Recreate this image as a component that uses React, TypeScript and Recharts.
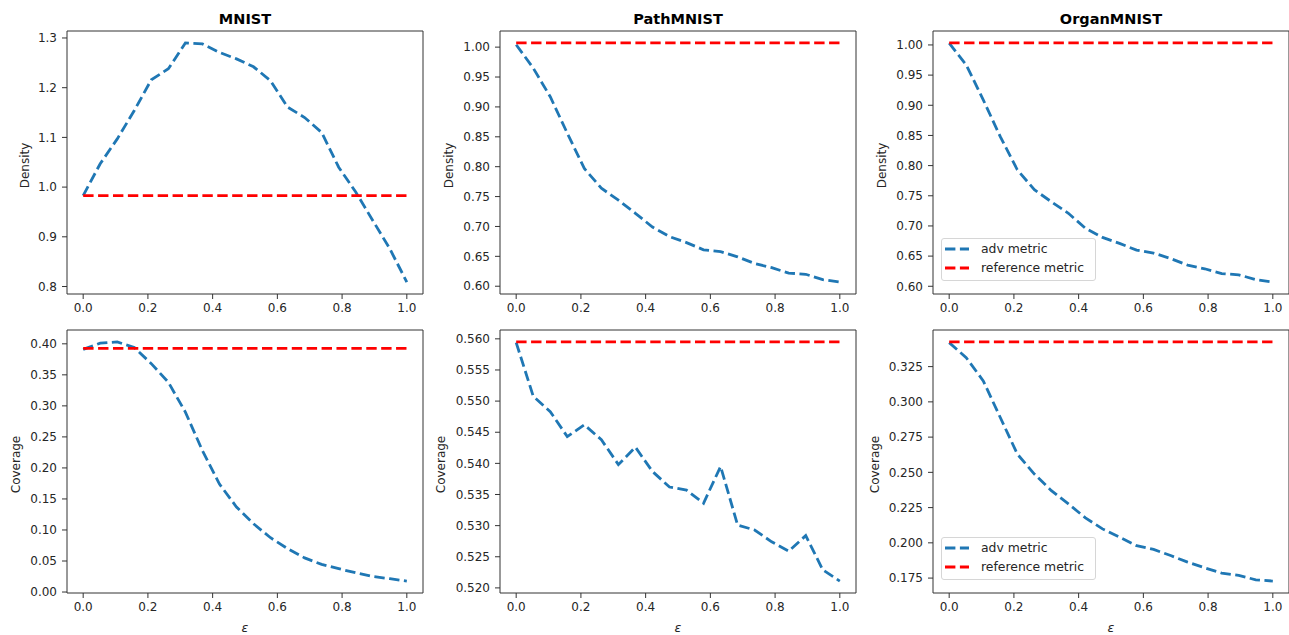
import React from 'react'
import { LineChart, Line, XAxis, YAxis, ReferenceArea, Legend } from 'recharts'

// epsilon sample points shared by every panel
const EPSILONS = [
  0, 0.0526, 0.1053, 0.1579, 0.2105, 0.2632, 0.3158, 0.3684, 0.4211, 0.4737,
  0.5263, 0.5789, 0.6316, 0.6842, 0.7368, 0.7895, 0.8421, 0.8947, 0.9474, 1,
]
const X_TICKS = [0, 0.2, 0.4, 0.6, 0.8, 1.0]

const MNIST_DENSITY = [
  0.983, 1.047, 1.097, 1.154, 1.216, 1.238, 1.29, 1.288, 1.271, 1.258,
  1.242, 1.214, 1.161, 1.14, 1.11, 1.04, 0.99, 0.933, 0.876, 0.809,
]
const MNIST_COVERAGE = [
  0.391, 0.401, 0.403, 0.394, 0.368, 0.338, 0.29, 0.228, 0.174, 0.137,
  0.11, 0.0875, 0.07, 0.055, 0.0445, 0.0376, 0.031, 0.025, 0.0215, 0.0177,
]
const PATH_DENSITY = [
  1.004, 0.965, 0.917, 0.856, 0.797, 0.764, 0.744, 0.722, 0.699, 0.683,
  0.673, 0.661, 0.658, 0.649, 0.638, 0.631, 0.622, 0.62, 0.611, 0.607,
]
const PATH_COVERAGE = [
  0.5594, 0.5508, 0.5483, 0.5443, 0.5462, 0.5438, 0.5398, 0.5426, 0.5387, 0.5362,
  0.5357, 0.5336, 0.5395, 0.5301, 0.5293, 0.5274, 0.5259, 0.5284, 0.5229, 0.5211,
]
const ORGAN_DENSITY = [
  1.003, 0.967, 0.909, 0.848, 0.793, 0.76, 0.74, 0.721, 0.696, 0.681,
  0.671, 0.66, 0.655, 0.646, 0.635, 0.629, 0.621, 0.619, 0.611, 0.607,
]
const ORGAN_COVERAGE = [
  0.342, 0.3314, 0.3149, 0.2889, 0.263, 0.2488, 0.237, 0.2276, 0.2177, 0.2099,
  0.204, 0.198, 0.1953, 0.191, 0.1863, 0.1823, 0.1785, 0.1769, 0.1738, 0.1729,
]

// reference metric, one per dataset/metric
const REF_MNIST_DENSITY = 0.983
const REF_MNIST_COVERAGE = 0.3925
const REF_PATH_DENSITY = 1.007
const REF_PATH_COVERAGE = 0.5595
const REF_ORGAN_DENSITY = 1.0033
const REF_ORGAN_COVERAGE = 0.3425

const DENSITY_TICKS_MNIST = [0.8, 0.9, 1.0, 1.1, 1.2, 1.3]
const COVERAGE_TICKS_MNIST = [0, 0.05, 0.1, 0.15, 0.2, 0.25, 0.3, 0.35, 0.4]
const DENSITY_TICKS_MED = [0.6, 0.65, 0.7, 0.75, 0.8, 0.85, 0.9, 0.95, 1.0]
const COVERAGE_TICKS_PATH = [0.52, 0.525, 0.53, 0.535, 0.54, 0.545, 0.55, 0.555, 0.56]
const COVERAGE_TICKS_ORGAN = [0.175, 0.2, 0.225, 0.25, 0.275, 0.3, 0.325]

const BLUE = '#1f77b4'
const RED = '#ff0000'
const DASH = '10.4 4.5'
const LINE_W = 2.8
const TEXT = '#262626'
const FONT = '"DejaVu Sans", sans-serif'

const PLOT_W = 356
const PLOT_H = 263
const M_LEFT = 70
const M_TOP = 30
const Y_AXIS_W = 60
const X_AXIS_H = 40

function PanelTitle({ text }: { text: string }) {
  return (
    <text x={M_LEFT + PLOT_W / 2} y={M_TOP - 7} textAnchor="middle" fontSize={14.5}
      fontWeight="bold" fill="#000" fontFamily={FONT}>
      {text}
    </text>
  )
}

function YTitle({ text, gap }: { text: string; gap: number }) {
  const x = M_LEFT - gap
  const y = M_TOP + PLOT_H / 2 + 3
  return (
    <text x={x} y={y} transform={`rotate(-90, ${x}, ${y})`} textAnchor="middle"
      dominantBaseline="central" fontSize={12} fill={TEXT} fontFamily={FONT}>
      {text}
    </text>
  )
}

function XTitle() {
  return (
    <text x={M_LEFT + PLOT_W / 2} y={M_TOP + PLOT_H + 34} textAnchor="middle"
      dominantBaseline="central" fontSize={12.5} fontStyle="italic" fill={TEXT} fontFamily={FONT}>
      ε
    </text>
  )
}

function LegendBox() {
  const rows = [
    { name: 'adv metric', color: BLUE },
    { name: 'reference metric', color: RED },
  ]
  return (
    <div style={{
      width: 150, border: '1px solid #d6d6d6', borderRadius: 3,
      background: 'rgba(255,255,255,0.8)', padding: '0 0 3px 3px', fontFamily: FONT,
      fontSize: 12.4, color: TEXT, boxSizing: 'content-box',
    }}>
      {rows.map((r) => (
        <div key={r.name} style={{ display: 'flex', alignItems: 'center', height: 19 }}>
          <svg width={24} height={6} style={{ flexShrink: 0 }}>
            <line x1={0} y1={3} x2={24} y2={3} stroke={r.color} strokeWidth={LINE_W} strokeDasharray={DASH} />
          </svg>
          <span style={{ marginLeft: 12, whiteSpace: 'nowrap' }}>{r.name}</span>
        </div>
      ))}
    </div>
  )
}

type PanelProps = {
  left: number
  top: number
  title?: string
  yLabel: string
  yGap: number
  values: number[]
  refValue: number
  yTicks: number[]
  digits: number
  showX?: boolean
  legend?: boolean
}

function Panel({ left, top, title, yLabel, yGap, values, refValue, yTicks, digits, showX, legend }: PanelProps) {
  const data = EPSILONS.map((x, i) => ({ x, adv: values[i], ref: refValue }))
  // matplotlib-style 5% padding around the data limits
  const lo = Math.min(refValue, ...values)
  const hi = Math.max(refValue, ...values)
  const pad = (hi - lo) * 0.05
  const yDomain = [lo - pad, hi + pad]
  const tickStyle = { fontSize: 12, fill: TEXT, fontFamily: FONT }

  return (
    <div style={{ position: 'absolute', left: left - M_LEFT, top: top - M_TOP }}>
      <LineChart
        width={M_LEFT + PLOT_W + 10}
        height={M_TOP + PLOT_H + X_AXIS_H + 5}
        data={data}
        margin={{ top: M_TOP, right: 10, bottom: 5, left: M_LEFT - Y_AXIS_W }}
      >
        <XAxis
          type="number"
          dataKey="x"
          domain={[-0.05, 1.05]}
          ticks={X_TICKS}
          interval={0}
          allowDataOverflow
          tickFormatter={(v: number) => v.toFixed(1)}
          axisLine={false}
          tickLine={{ stroke: '#333' }}
          tickSize={5}
          tickMargin={4}
          height={X_AXIS_H}
          tick={tickStyle}
          label={showX ? <XTitle /> : undefined}
        />
        <YAxis
          type="number"
          domain={yDomain}
          ticks={yTicks}
          interval={0}
          allowDataOverflow
          tickFormatter={(v: number) => v.toFixed(digits)}
          axisLine={false}
          tickLine={{ stroke: '#333' }}
          tickSize={5}
          tickMargin={5}
          width={Y_AXIS_W}
          tick={tickStyle}
          label={<YTitle text={yLabel} gap={yGap} />}
        />
        <ReferenceArea
          x1={-0.05}
          x2={1.05}
          y1={yDomain[0]}
          y2={yDomain[1]}
          ifOverflow="visible"
          fill="#fff"
          fillOpacity={0}
          stroke="#333"
          strokeWidth={1}
          label={title ? <PanelTitle text={title} /> : undefined}
        />
        <Line type="linear" dataKey="adv" name="adv metric" stroke={BLUE} strokeWidth={LINE_W}
          strokeDasharray={DASH} dot={false} activeDot={false} isAnimationActive={false} />
        <Line type="linear" dataKey="ref" name="reference metric" stroke={RED} strokeWidth={LINE_W}
          strokeDasharray={DASH} dot={false} activeDot={false} isAnimationActive={false} />
        {legend && (
          <Legend
            layout="vertical"
            align="center"
            verticalAlign="middle"
            content={<LegendBox />}
            wrapperStyle={{ left: M_LEFT + 8, top: M_TOP + 207, width: 'auto' }}
          />
        )}
      </LineChart>
    </div>
  )
}

const COLS = [67, 500, 933]
const ROWS = [31, 330]

export default function App() {
  return (
    <div style={{ position: 'absolute', left: 0, top: 0, width: 1289, height: 635, background: '#fff', overflow: 'hidden' }}>
      <Panel left={COLS[0]} top={ROWS[0]} title="MNIST" yLabel="Density" yGap={42}
        values={MNIST_DENSITY} refValue={REF_MNIST_DENSITY} yTicks={DENSITY_TICKS_MNIST} digits={1} />
      <Panel left={COLS[1]} top={ROWS[0]} title="PathMNIST" yLabel="Density" yGap={51}
        values={PATH_DENSITY} refValue={REF_PATH_DENSITY} yTicks={DENSITY_TICKS_MED} digits={2} />
      <Panel left={COLS[2]} top={ROWS[0]} title="OrganMNIST" yLabel="Density" yGap={51}
        values={ORGAN_DENSITY} refValue={REF_ORGAN_DENSITY} yTicks={DENSITY_TICKS_MED} digits={2} legend />
      <Panel left={COLS[0]} top={ROWS[1]} yLabel="Coverage" yGap={51} showX
        values={MNIST_COVERAGE} refValue={REF_MNIST_COVERAGE} yTicks={COVERAGE_TICKS_MNIST} digits={2} />
      <Panel left={COLS[1]} top={ROWS[1]} yLabel="Coverage" yGap={59} showX
        values={PATH_COVERAGE} refValue={REF_PATH_COVERAGE} yTicks={COVERAGE_TICKS_PATH} digits={3} />
      <Panel left={COLS[2]} top={ROWS[1]} yLabel="Coverage" yGap={58} showX
        values={ORGAN_COVERAGE} refValue={REF_ORGAN_COVERAGE} yTicks={COVERAGE_TICKS_ORGAN} digits={3} legend />
    </div>
  )
}
